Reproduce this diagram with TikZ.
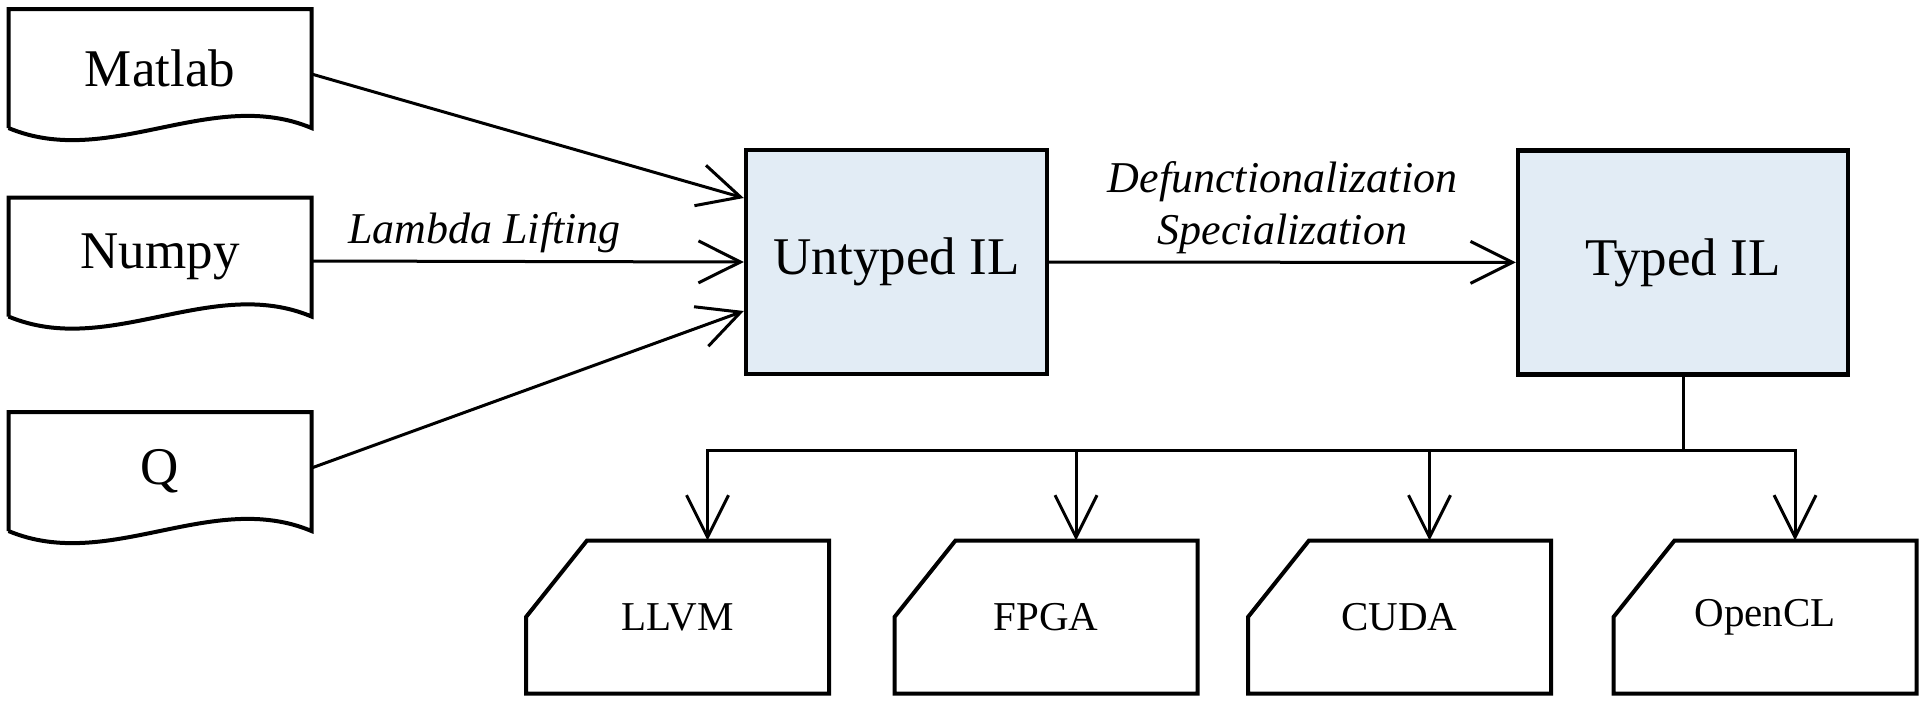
\documentclass[tikz,border=0pt]{standalone}
\usepackage{fontspec}
\setmainfont{Liberation Serif}
\usetikzlibrary{arrows.meta}
\definecolor{ilblue}{RGB}{226,236,245}

\begin{document}
\begin{tikzpicture}[x=0.5pt,y=-0.5pt,line width=1.5pt,>={Straight Barb[length=21pt,width=21pt]},
	src/.style={minimum width=150pt,minimum height=58pt,font=\fontsize{26.5}{31}\selectfont},
	il/.style={draw,line width=2.2pt,fill=ilblue,minimum height=112pt,font=\fontsize{26.5}{31}\selectfont},
	tgt/.style={minimum width=150pt,minimum height=75pt,font=\fontsize{20.5}{24}\selectfont},
	lbl/.style={font=\fontsize{22}{26}\selectfont\itshape}]
	\useasboundingbox (0,0) rectangle (1926,702);

	%SOURCES
	\node[src] (matlab) at (160,68.5) {Matlab};
	\node[src] (numpy) at (160,257) {Numpy};
	\node[src] (q) at (160,471.5) {Q};
	\foreach \n in {matlab,numpy,q}
		\draw[line width=2pt] (\n.south west)--(\n.north west)--(\n.north east)--(\n.south east) .. controls ([xshift=-50pt,yshift=21pt]\n.south east) and ([xshift=50pt,yshift=-21pt]\n.south west) .. (\n.south west);

	%IL BOXES
	\node[il,minimum width=150.5pt] (untyped) at (896.5,262) {Untyped IL};
	\node[il,minimum width=165pt] (typed) at (1683,262.5) {Typed IL};

	%TARGETS
	\node[tgt] (llvm) at (677.5,617) {LLVM};
	\node[tgt] (fpga) at (1046,617) {FPGA};
	\node[tgt] (cuda) at (1399.5,617) {CUDA};
	\node[tgt] (opencl) at (1765,617) {OpenCL};
	\foreach \t in {llvm,fpga,cuda,opencl}
		\draw[line width=2pt] (\t.south west)--(\t.west)--([xshift=30.5pt]\t.north west)--(\t.north east)--(\t.south east)--cycle;

	%ARROWS
	\draw[->] ([yshift=-2.75pt]matlab.east)--([yshift=32pt]untyped.west);
	\draw[->] ([yshift=-2pt]numpy.east)--(untyped.west) node[lbl,pos=0.4,above] {Lambda Lifting};
	\draw[->] ([yshift=1.75pt]q.east)--([yshift=-24.5pt]untyped.west);
	\draw[->] (untyped)--(typed) node[lbl,midway,above,align=center] {Defunctionalization\\Specialization};
	%
	\coordinate (split) at (1683,450);
	\draw (typed)--(split);
	\foreach \t in {llvm,fpga,cuda,opencl}
		\draw[->] (split) -| ([xshift=15pt]\t.north);
\end{tikzpicture}
\end{document}
